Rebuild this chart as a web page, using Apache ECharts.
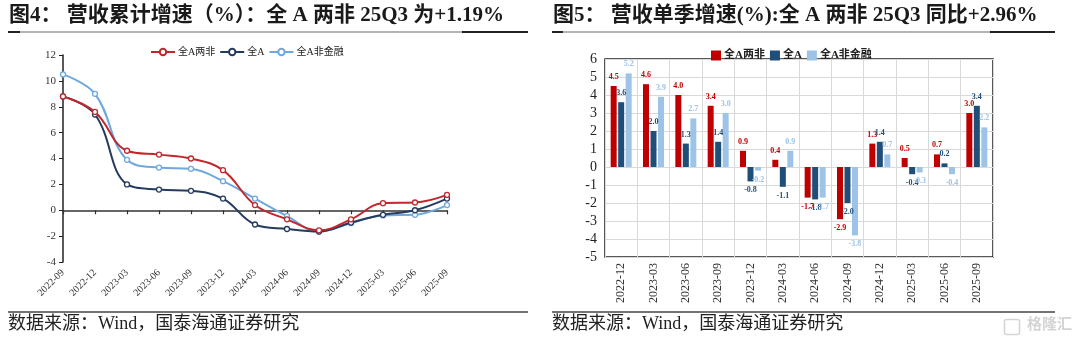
<!DOCTYPE html>
<html><head><meta charset="utf-8">
<script src="https://cdn.jsdelivr.net/npm/echarts@6/dist/echarts.min.js"></script>
<style>
html,body{margin:0;padding:0;background:#fff;}
#wrap{width:1080px;height:340px;position:relative;}
#c1{position:absolute;left:0;top:0;width:540px;height:340px;}
#c2{position:absolute;left:540px;top:0;width:540px;height:340px;}
</style>
</head><body><div id="wrap"><div id="c1"></div><div id="c2"></div></div>
<script>
// Cumulative revenue growth (%), quarter-end
const cumQuarters = ['2022-09','2022-12','2023-03','2023-06','2023-09','2023-12','2024-03','2024-06','2024-09','2024-12','2025-03','2025-06','2025-09'];
const cumTwoNon  = [8.8, 7.6, 4.6, 4.3, 4.0, 3.1, 0.4, -0.7, -1.55, -0.7, 0.55, 0.6, 1.19];
const cumAllA    = [8.8, 7.4, 2.0, 1.6, 1.5, 0.9, -1.1, -1.45, -1.65, -0.95, -0.35, 0.0, 0.9];
const cumNonFin  = [10.5, 9.0, 3.9, 3.3, 3.2, 2.25, 0.9, -0.45, -1.65, -1.0, -0.4, -0.35, 0.4];
const cumTicks   = [-4, -2, 0, 2, 4, 6, 8, 10, 12];

// Single-quarter revenue growth (%)
const qQuarters = ['2022-12','2023-03','2023-06','2023-09','2023-12','2024-03','2024-06','2024-09','2024-12','2025-03','2025-06','2025-09'];
const qTwoNon   = [4.5, 4.6, 4.0, 3.4, 0.9, 0.4, -1.7, -2.9, 1.3, 0.5, 0.7, 3.0];
const qAllA     = [3.6, 2.0, 1.3, 1.4, -0.8, -1.1, -1.8, -2.0, 1.4, -0.4, 0.2, 3.4];
const qNonFin   = [5.2, 3.9, 2.7, 3.0, -0.2, 0.9, -1.7, -3.8, 0.7, -0.3, -0.4, 2.2];
const qTicks    = [-5, -4, -3, -2, -1, 0, 1, 2, 3, 4, 5, 6];

const seriesNames = ['全A两非', '全A', '全A非金融'];
const SERIF = '"Liberation Serif", "Noto Sans CJK SC", serif';
const TEXT = '#1a1a1a';

function headerGraphics(title, x0, x1, thickL, thickR) {
  return [
    { type: 'text', left: x0 + 1, top: 5, style: { text: title, font: 'bold 21px ' + SERIF, fill: TEXT } },
    { type: 'line', shape: { x1: x0, y1: 32, x2: x1, y2: 32 }, style: { stroke: '#6a6a6a', lineWidth: 1.2 } },
    { type: 'line', shape: { x1: x0, y1: 32, x2: thickL, y2: 32 }, style: { stroke: '#222', lineWidth: 2 } },
    { type: 'line', shape: { x1: thickR, y1: 32, x2: x1, y2: 32 }, style: { stroke: '#222', lineWidth: 2 } },
    { type: 'line', shape: { x1: x0, y1: 312, x2: x1, y2: 312 }, style: { stroke: '#444', lineWidth: 1.5 } },
    { type: 'text', left: x0, top: 315, style: { text: '数据来源：Wind，国泰海通证券研究', font: '18px ' + SERIF, fill: '#222' } }
  ];
}

// ---- Left: cumulative growth lines ----
const lineColors = ['#C0282D', '#253B5E', '#6FA8DC'];
const lineData = [cumTwoNon, cumAllA, cumNonFin];
const c1 = echarts.init(document.getElementById('c1'), null, { renderer: 'canvas' });
c1.setOption({
  animation: false,
  graphic: headerGraphics('图4： 营收累计增速（%）：全 A 两非 25Q3 为+1.19%', 8, 528, 20, 462),
  legend: {
    data: seriesNames, left: 145, top: 42, itemWidth: 24, itemHeight: 8, itemGap: 4,
    textStyle: { fontSize: 10, fontFamily: SERIF, color: '#222', padding: [0, 0, 0, -2] }
  },
  grid: { left: 63, top: 55, width: 384, height: 207 },
  xAxis: [
    { type: 'category', data: cumQuarters, boundaryGap: false, position: 'bottom',
      axisLine: { show: false, onZero: false }, axisTick: { show: false },
      axisLabel: { rotate: 45, fontSize: 10, fontFamily: SERIF, color: '#333', margin: 9, interval: 0 } },
    { type: 'category', data: cumQuarters, boundaryGap: false, position: 'bottom',
      axisLine: { show: true, onZero: true, lineStyle: { color: '#333', width: 1.5 } },
      axisTick: { show: true, length: 4, interval: 0, lineStyle: { color: '#333', width: 1.2 } },
      axisLabel: { show: false } }
  ],
  yAxis: {
    type: 'value', min: cumTicks[0], max: cumTicks[cumTicks.length - 1], interval: 2,
    axisLine: { show: true, lineStyle: { color: '#222', width: 1.5 } },
    axisTick: { show: true, length: 4, lineStyle: { color: '#222' } },
    axisLabel: { fontSize: 11, fontFamily: SERIF, color: '#333', margin: 7 },
    splitLine: { show: false }
  },
  series: seriesNames.map((n, i) => ({
    name: n, type: 'line', xAxisIndex: 0, data: lineData[i], smooth: 0.4,
    symbol: 'circle', symbolSize: 5, showAllSymbol: true,
    lineStyle: { color: lineColors[i], width: 2 },
    itemStyle: { color: '#fff', borderColor: lineColors[i], borderWidth: 1.3 },
    z: 3 - i + 2
  }))
});

// ---- Right: single-quarter growth bars ----
const barColors = ['#C00000', '#1F4E79', '#9DC3E6'];
const barData = [qTwoNon, qAllA, qNonFin];
const c2 = echarts.init(document.getElementById('c2'), null, { renderer: 'canvas' });
const g2 = headerGraphics('图5： 营收单季增速(%):全 A 两非 25Q3 同比+2.96%', 12, 515, 23, 450);
g2.push({ type: 'text', right: 8, top: 316, style: { text: '格隆汇', font: 'bold 15px "Noto Sans CJK SC"', fill: '#d4d4d4' } });
g2.push({ type: 'rect', right: 58, top: 317, shape: { width: 15, height: 15, r: 2 }, style: { fill: 'none', stroke: '#d4d4d4', lineWidth: 1.5 } });
c2.setOption({
  animation: false,
  graphic: g2,
  legend: {
    data: seriesNames, left: 166, top: 45, icon: 'rect', itemWidth: 10, itemHeight: 10, itemGap: 5,
    textStyle: { fontSize: 11, fontWeight: 'bold', fontFamily: SERIF, color: '#222', padding: [0, 0, 0, -2] }
  },
  grid: { left: 65, top: 59, width: 388, height: 198, show: true, borderColor: '#222', borderWidth: 1.5, backgroundColor: 'transparent' },
  xAxis: {
    type: 'category', data: qQuarters, boundaryGap: true,
    axisLine: { show: false, onZero: false }, axisTick: { show: false },
    splitLine: { show: true, interval: 0, lineStyle: { color: '#d9d9d9', width: 1 } },
    axisLabel: { rotate: 90, fontSize: 12, fontFamily: SERIF, color: '#333', margin: 6, interval: 0 }
  },
  yAxis: {
    type: 'value', min: qTicks[0], max: qTicks[qTicks.length - 1], interval: 1,
    axisLine: { show: false }, axisTick: { show: false },
    axisLabel: { fontSize: 14, fontFamily: SERIF, color: '#222', margin: 8 },
    splitLine: { show: true, lineStyle: { color: '#d9d9d9', width: 1 } }
  },
  series: seriesNames.map((n, i) => ({
    name: n, type: 'bar', barWidth: 6, barGap: '25%',
    itemStyle: { color: barColors[i] },
    data: barData[i].map(v => ({
      value: v,
      label: { show: true, position: v >= 0 ? 'top' : 'bottom', distance: 5,
        formatter: p => p.value.toFixed(1),
        fontSize: 8, fontWeight: 'bold', fontFamily: SERIF, color: barColors[i] }
    }))
  }))
});
</script>
</body></html>
